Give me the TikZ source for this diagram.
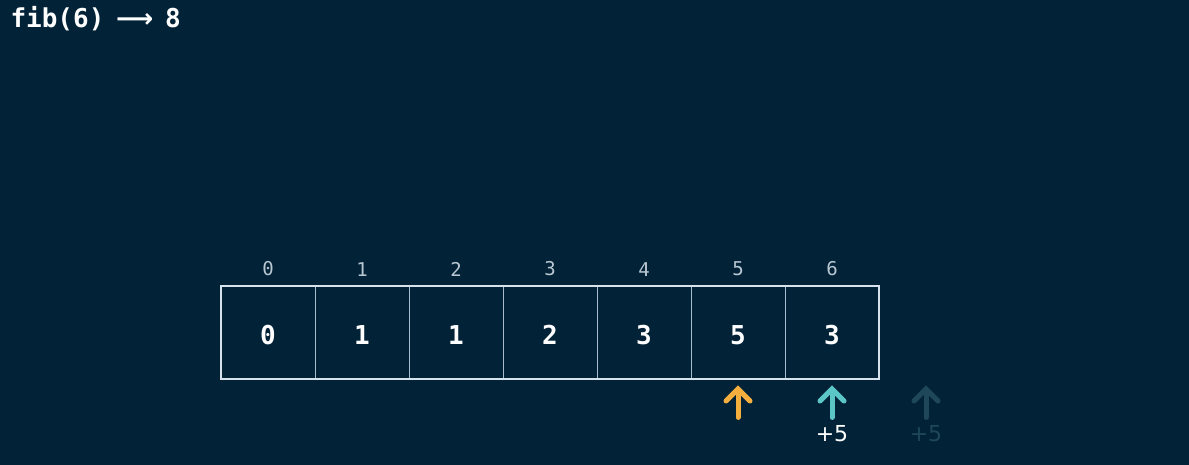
\documentclass[tikz,border=0pt]{standalone}
\usepackage{fontspec}
\setmainfont{DejaVu Sans}
\setmonofont{DejaVu Sans Mono}
\usetikzlibrary{positioning}
\usetikzlibrary{arrows.meta}
\definecolor{bgnavy}{HTML}{022337}
\definecolor{cellline}{HTML}{A9BCCB}
\definecolor{frameline}{HTML}{D6E2EC}
\definecolor{idxgrey}{HTML}{B9C7D2}
\definecolor{ptrorange}{HTML}{F4AE3D}
\definecolor{ptrteal}{HTML}{5CC6C6}
\definecolor{ptrfaint}{HTML}{1E4859}
\tikzset{
  cell/.style={draw=cellline, line width=0.9pt, minimum width=94pt, minimum height=93pt,
    inner sep=0pt, text height=24pt, text depth=0pt, text=white,
    font=\ttfamily\bfseries\fontsize{26}{26}\selectfont},
  idx/.style={text=idxgrey, font=\ttfamily\fontsize{19}{19}\selectfont},
  ptr/.style={line width=5pt, line cap=round, -{Straight Barb[length=12pt, width=24pt, line cap=round]}},
  addlabel/.style={font=\fontsize{22}{22}\selectfont, inner sep=0pt}
}
\begin{document}
\begin{tikzpicture}[x=1pt, y=1pt]
  \fill [bgnavy] (0, 0) rectangle (1189, -465);
  \useasboundingbox (0, 0) rectangle (1189, -465);

  \node [anchor=west, text=white, font=\ttfamily\bfseries\fontsize{26}{26}\selectfont] (title) at (7, -19)
    {fib(6)\hspace{0.45em}\textrm{⟶}\hspace{0.45em}8};

  \foreach \v [count=\i from 0] in {0, 1, 1, 2, 3, 5, 3} {
    \node [cell] (c\i) at (268 + 94*\i, -332.5) {\v};
    \node [idx, above=6pt of c\i] (i\i) {\i};
  }
  \draw [frameline, line width=2pt] (c0.north west) rectangle (c6.south east);

  \coordinate [below=6pt of c5] (tip5);
  \coordinate [below=38pt of c5] (tail5);
  \draw [ptr, ptrorange] (tail5) -- (tip5);

  \coordinate [below=6pt of c6] (tip6);
  \coordinate [below=38pt of c6] (tail6);
  \draw [ptr, ptrteal] (tail6) -- (tip6);
  \node [addlabel, text=white, below=8pt of tail6] (add6) {+5};

  \coordinate [right=94pt of tip6] (tip7);
  \coordinate [right=94pt of tail6] (tail7);
  \draw [ptr, ptrfaint] (tail7) -- (tip7);
  \node [addlabel, text=ptrfaint, below=8pt of tail7] (add7) {+5};
\end{tikzpicture}
\end{document}
